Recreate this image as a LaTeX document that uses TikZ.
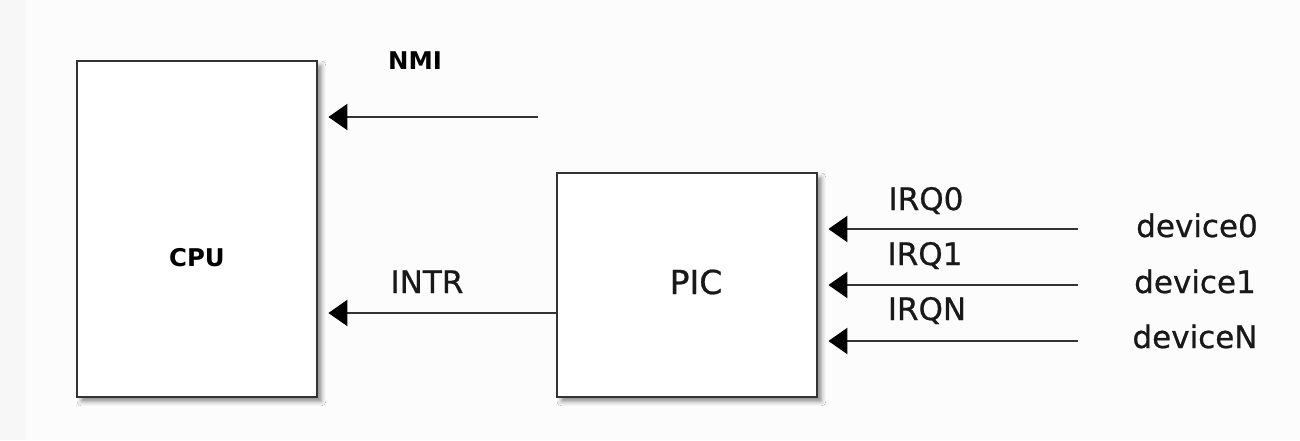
\documentclass[tikz,border=0pt]{standalone}
\usepackage{fontspec}
\setmainfont{DejaVu Sans}
\newfontfamily\heavyfont[FakeBold=0.7]{DejaVu Sans}
\usetikzlibrary{arrows.meta,shadows.blur}
\tikzset{
  box/.style={draw=black!80, line width=1.4pt, fill=white, inner sep=0pt,
    blur shadow={shadow xshift=2.2pt, shadow yshift=-2.2pt, shadow opacity=45, shadow blur radius=2.2pt}},
  sig/.style={draw=black!80, line width=1.1pt, -{Triangle[length=9.5pt,width=13pt,color=black]}},
  lbl/.style={anchor=base, inner sep=0pt, text=black!90, font=\heavyfont\fontsize{15.5}{18}\selectfont},
  blbl/.style={anchor=base, inner sep=0pt, font=\bfseries\fontsize{12.2}{14}\selectfont},
}
\begin{document}
\begin{tikzpicture}[x=0.5pt,y=-0.5pt]
\useasboundingbox (0,0) rectangle (1300,440);
\fill[black!1] (0,0) rectangle (1300,440);
\fill[black!3] (0,0) rectangle (26,440);
% boxes
\node[box, minimum width=120pt, minimum height=168pt] (cpu) at (197,229) {};
\node[box, minimum width=130pt, minimum height=112pt] (pic) at (687,285) {};
% labels
\node[blbl] (cputxt) at (197,266) {CPU};
\node[lbl, font=\heavyfont\fontsize{16.5}{19}\selectfont] (pictxt) at (696,294) {PIC};
\node[blbl] (nmitxt) at (415,69) {NMI};
\node[lbl] (intrtxt) at (427,293) {INTR};
\node[lbl] (irq0) at (926,210) {IRQ0};
\node[lbl] (irq1) at (925,265) {IRQ1};
\node[lbl] (irqn) at (927,320) {IRQN};
\node[lbl] (dev0) at (1197,237) {device0};
\node[lbl] (dev1) at (1195,293) {device1};
\node[lbl] (devn) at (1195,348) {deviceN};
% free ends
\coordinate (nmiS) at (538,117);
\coordinate (irq0S) at (1078,229);
\coordinate (irq1S) at (1078,285);
\coordinate (irqnS) at (1078,341);
\coordinate (intrS) at (557,313);
% connectors
\draw[sig, shorten >=5pt] (nmiS) -- (cpu.east |- nmiS);
\draw[sig, shorten >=5pt] (pic.west |- intrS) -- (cpu.east |- intrS);
\draw[sig, shorten >=5pt] (irq0S) -- (pic.east |- irq0S);
\draw[sig, shorten >=5pt] (irq1S) -- (pic.east |- irq1S);
\draw[sig, shorten >=5pt] (irqnS) -- (pic.east |- irqnS);
\end{tikzpicture}
\end{document}
